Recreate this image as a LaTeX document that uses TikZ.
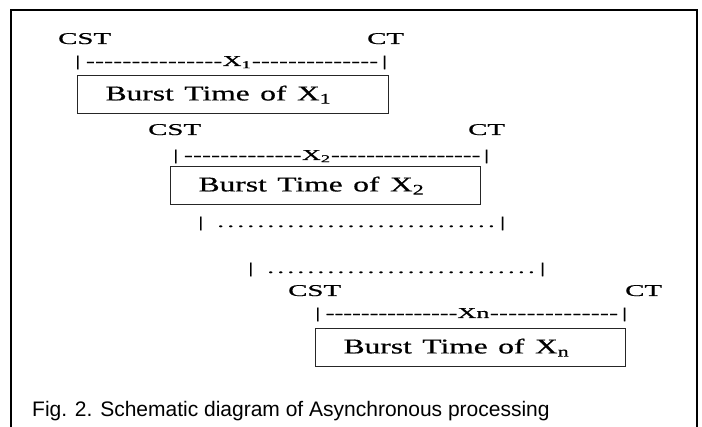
\documentclass[tikz,border=0pt]{standalone}
\usepackage{fontspec}
\usepackage{graphicx}
\setmainfont{Liberation Serif}[FakeBold=0.5]
\newfontfamily\capfont{Liberation Sans}
\newcommand\wide[1]{\scalebox{1.75}[1]{#1}}
\newcommand\wideb[1]{\scalebox{1.5}[1]{#1}}
\newlength\rowlen
\newcommand\dashrow[4]{\setlength\rowlen{#1}\divide\rowlen by 7 \multiply\rowlen by 4
  \wide{\hbox to \rowlen{|\hskip 3pt\xleaders\hbox{-}\hskip 0pt plus #2fil #3\xleaders\hbox{-}\hskip 0pt plus #4fil\hskip 2pt|}}}
\newcommand\dotrow[1]{\setlength\rowlen{#1}\divide\rowlen by 7 \multiply\rowlen by 4
  \wide{\hbox to \rowlen{|\hskip 7pt\xleaders\hbox to 5.7pt{\hss.\hss}\hfill\hskip 2pt|}}}
\begin{document}
\begin{tikzpicture}[x=1pt,y=-1pt,
  lbl/.style={font=\fontsize{16.5}{18}\selectfont, inner sep=0pt, anchor=base west},
  barline/.style={font=\fontsize{15}{17}\selectfont, inner sep=0pt, anchor=base west},
  burst/.style={draw=black!85, line width=1.2pt, anchor=north west, inner xsep=28pt, inner ysep=0pt,
    minimum height=38pt, align=left, font=\fontsize{21}{22}\selectfont},
  frame/.style={line width=2pt, draw=black}]
\useasboundingbox (0,0) rectangle (702,427);
\draw[frame] (11,440) -- (11,10) -- (697,10) -- (697,440);
% row 1
\node[lbl] (cst1) at (58,44) {\wide{CST}};
\node[lbl] (ct1) at (367,44) {\wide{CT}};
\node[barline] (bar1) at (75,66) {\dashrow{312pt}{147}{X\textsubscript{1}}{136}};
\node[burst, text width=255pt] (box1) at (77,75) {\wideb{Burst Time of X\textsubscript{1}}};
% row 2
\node[lbl] (cst2) at (148,135) {\wide{CST}};
\node[lbl] (ct2) at (468,135) {\wide{CT}};
\node[barline] (bar2) at (173,160) {\dashrow{316pt}{125}{X\textsubscript{2}}{158}};
\node[burst, text width=254pt] (box2) at (170,166) {\wideb{Burst Time of X\textsubscript{2}}};
% dotted rows
\node[barline] (dots1) at (198,227) {\dotrow{307pt}};
\node[barline] (dots2) at (248,273) {\dotrow{297pt}};
% row n
\node[lbl] (cstn) at (288,296) {\wide{CST}};
\node[lbl] (ctn) at (625,296) {\wide{CT}};
\node[barline] (barn) at (315,318) {\dashrow{312pt}{137}{Xn}{134}};
\node[burst, text width=254pt] (boxn) at (315,328) {\wideb{Burst Time of X\textsubscript{n}}};
% caption
\node[font=\capfont\fontsize{21}{24}\selectfont, inner sep=0pt, anchor=base west] (cap) at (32,417)
  {Fig. 2. Schematic diagram of Asynchronous processing};
\end{tikzpicture}
\end{document}
